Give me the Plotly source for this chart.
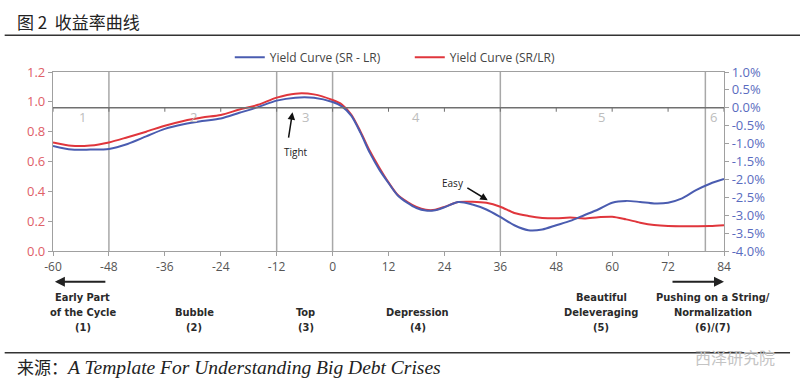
import plotly.graph_objects as go

# ---------------- data ----------------
months = [-60, -56, -52, -48, -44, -40, -36, -32, -28, -24, -20, -16, -12, -8, -4, 0,
          2, 4, 6, 8, 10, 12, 14, 16, 18, 20, 22, 24, 27, 30, 33, 36, 39, 42, 45, 48,
          51, 54, 57, 60, 63, 66, 69, 72, 75, 78, 81, 84]

# Yield Curve (SR/LR) - left axis
ratio_sr_lr = [0.727, 0.705, 0.707, 0.728, 0.763, 0.800, 0.840, 0.872, 0.895, 0.912, 0.948, 0.980,
               1.028, 1.055, 1.050, 1.012, 0.982, 0.915, 0.800, 0.670, 0.560, 0.460, 0.375, 0.330,
               0.295, 0.276, 0.276, 0.296, 0.328, 0.330, 0.323, 0.297, 0.255, 0.235, 0.222, 0.219,
               0.224, 0.218, 0.226, 0.230, 0.212, 0.190, 0.174, 0.167, 0.166, 0.166, 0.167, 0.172]

# Yield Curve (SR - LR) - right axis, percent
spread_sr_lr = [-1.065, -1.167, -1.167, -1.150, -1.010, -0.800, -0.590, -0.460, -0.370, -0.300, -0.140, 0.020,
                0.200, 0.284, 0.280, 0.160, 0.040, -0.220, -0.700, -1.260, -1.720, -2.100, -2.450, -2.650,
                -2.800, -2.870, -2.860, -2.780, -2.630, -2.700, -2.840, -3.050, -3.280, -3.420, -3.400, -3.280,
                -3.160, -3.000, -2.840, -2.650, -2.600, -2.630, -2.670, -2.650, -2.530, -2.300, -2.120, -1.990]

x_ticks = [-60, -48, -36, -24, -12, 0, 12, 24, 36, 48, 60, 72, 84]
x_tick_text = ["-60", "-48", "-36", "-24", "-12", "0", "12", "24", "36", "48", "60", "72", "84"]
left_ticks = [0.0, 0.2, 0.4, 0.6, 0.8, 1.0, 1.2]
left_tick_text = ["0.0", "0.2", "0.4", "0.6", "0.8", "1.0", "1.2"]
right_ticks = [1.0, 0.5, 0.0, -0.5, -1.0, -1.5, -2.0, -2.5, -3.0, -3.5, -4.0]
right_tick_text = ["1.0%", "0.5%", "0.0%", "-0.5%", "-1.0%", "-1.5%", "-2.0%", "-2.5%", "-3.0%", "-3.5%", "-4.0%"]
phase_lines = [-48, -12, 0, 36, 80]
phase_numbers = ["1", "2", "3", "4", "5", "6"]
phase_number_x = [-53.7, -29.8, -5.75, 18.0, 57.7, 81.8]

phase_labels = [
    ["Early Part", "of the Cycle", "(1)"],
    ["Bubble", "(2)"],
    ["Top", "(3)"],
    ["Depression", "(4)"],
    ["Beautiful", "Deleveraging", "(5)"],
    ["Pushing on a String/", "Normalization", "(6)/(7)"],
]
phase_label_x = [-53.6, -29.7, -5.75, 18.3, 57.7, 81.6]

BLUE = "#4a5cb0"
RED = "#e0363c"
LABEL_FONT = "DejaVu Sans Condensed, Roboto Condensed, Roboto, sans-serif"

fig = go.Figure()
fig.add_trace(go.Scatter(x=months, y=spread_sr_lr, name="Yield Curve (SR - LR)", yaxis="y2",
                         mode="lines", line=dict(color=BLUE, width=2, shape="spline", smoothing=0.8)))
fig.add_trace(go.Scatter(x=months, y=ratio_sr_lr, name="Yield Curve (SR/LR)", yaxis="y",
                         mode="lines", line=dict(color=RED, width=2, shape="spline", smoothing=0.8)))

# plot-pixel helpers (plot area 53..724 x, 72..251 y)
def py(p):
    return (251 - p) / 179.3

def px(p):
    return (p - 53.3) / 670.7

shapes = []
for v in phase_lines:
    shapes.append(dict(type="line", xref="x", yref="paper", x0=v, x1=v, y0=0, y1=1,
                       line=dict(color="#a8a8a8", width=1.5), layer="below"))
# zero line of right axis with ticks
shapes.append(dict(type="line", xref="paper", yref="y2", x0=0, x1=1, y0=0, y1=0,
                   line=dict(color="#707070", width=1.5)))
for v in x_ticks:
    shapes.append(dict(type="line", xref="x", yref="y2", x0=v, x1=v, y0=0, y1=-0.11,
                       line=dict(color="#707070", width=1)))
# title & source rules
shapes.append(dict(type="line", xref="paper", yref="paper", x0=px(5), x1=px(800), y0=py(35), y1=py(35),
                   line=dict(color="#333333", width=1.5)))
shapes.append(dict(type="line", xref="paper", yref="paper", x0=px(5), x1=px(790), y0=py(353), y1=py(353),
                   line=dict(color="#333333", width=1.5)))

ann = []
for t, xv in zip(phase_numbers, phase_number_x):
    ann.append(dict(x=xv, y=0.897, xref="x", yref="y", text=t, showarrow=False,
                    font=dict(size=13, color="#bdbdbd", family="Open Sans")))

line_y = [297.7, 312.7, 327.7]
for lines, xv in zip(phase_labels, phase_label_x):
    start = 3 - len(lines)
    for i, t in enumerate(lines):
        ann.append(dict(x=xv, y=py(line_y[start + i]), xref="x", yref="paper", text="<b>" + t + "</b>",
                        showarrow=False, yanchor="middle",
                        font=dict(size=11, color="#2a2a2a", family=LABEL_FONT)))

# bottom arrows
ann.append(dict(x=-59.6, y=py(281.7), xref="x", yref="paper", text="", showarrow=True,
                ax=52, ay=0, arrowhead=2, arrowsize=1, arrowwidth=2, arrowcolor="#222"))
ann.append(dict(x=84, y=py(281.7), xref="x", yref="paper", text="", showarrow=True,
                ax=-53, ay=0, arrowhead=2, arrowsize=1, arrowwidth=2, arrowcolor="#222"))

# Tight / Easy
ann.append(dict(x=-8.6, y=0.93, xref="x", yref="y", ax=-9.5, ay=0.75, axref="x", ayref="y",
                text="", showarrow=True, arrowhead=2, arrowsize=1, arrowwidth=1.5, arrowcolor="#111"))
ann.append(dict(x=-7.9, y=0.664, xref="x", yref="y", text="Tight", showarrow=False,
                font=dict(size=10, color="#222", family="Open Sans")))
ann.append(dict(x=33.3, y=0.34, xref="x", yref="y", ax=28.6, ay=0.43, axref="x", ayref="y",
                text="", showarrow=True, arrowhead=2, arrowsize=1, arrowwidth=1.5, arrowcolor="#111"))
ann.append(dict(x=25.9, y=0.455, xref="x", yref="y", text="Easy", showarrow=False,
                font=dict(size=10, color="#222", family="Open Sans")))

# title, source, watermark
ann.append(dict(x=px(15), y=py(21), xref="paper", yref="paper", text="图 2  收益率曲线",
                showarrow=False, xanchor="left", yanchor="middle", align="left",
                font=dict(size=17, color="#222", family="Noto Sans CJK SC")))
ann.append(dict(x=px(15), y=py(367), xref="paper", yref="paper",
                text="<span style='font-family:Noto Sans CJK SC;font-size:17px'>来源：</span><i>A Template For Understanding Big Debt Crises</i>",
                showarrow=False, xanchor="left", yanchor="middle", align="left",
                font=dict(size=19.5, color="#222", family="Liberation Serif")))
ann.append(dict(x=px(777), y=py(357), xref="paper", yref="paper", text="西泽研究院",
                showarrow=False, xanchor="right", yanchor="middle", align="right",
                font=dict(size=16, color="#c4c4c4", family="Noto Sans CJK SC")))

fig.update_layout(
    width=800, height=388,
    margin=dict(l=53, r=76, t=72, b=137),
    paper_bgcolor="white", plot_bgcolor="white",
    showlegend=True,
    legend=dict(orientation="h", x=px(230), y=py(57), xanchor="left", yanchor="middle",
                font=dict(size=12, color="#444", family="Open Sans"),
                bgcolor="rgba(0,0,0,0)", itemwidth=30, entrywidth=135),
    xaxis=dict(range=[-60, 84], tickvals=x_ticks, ticktext=x_tick_text, showgrid=False, zeroline=False,
               showline=True, linecolor="#a0a0a0", linewidth=1.2, mirror=True,
               ticks="outside", ticklen=4, tickcolor="#a0a0a0",
               tickfont=dict(size=12, color="#555", family="Open Sans")),
    yaxis=dict(range=[0, 1.2], tickvals=left_ticks, ticktext=left_tick_text, showgrid=False, zeroline=False,
               showline=True, linecolor="#a0a0a0", linewidth=1.2,
               ticks="outside", ticklen=4, tickcolor="#a0a0a0",
               tickfont=dict(size=13, color="#e06068", family="Open Sans")),
    yaxis2=dict(range=[-4, 1], tickvals=right_ticks, ticktext=right_tick_text,
                overlaying="y", side="right", showgrid=False, zeroline=False,
                showline=True, linecolor="#a0a0a0", linewidth=1.2,
                ticks="outside", ticklen=4, tickcolor="#a0a0a0",
                tickfont=dict(size=13, color="#5a6cc0", family="Open Sans")),
    shapes=shapes,
    annotations=ann,
)

fig.write_html("out.html", config={"displayModeBar": False},
               post_script="document.body.style.margin='0';document.body.style.overflow='hidden';")
